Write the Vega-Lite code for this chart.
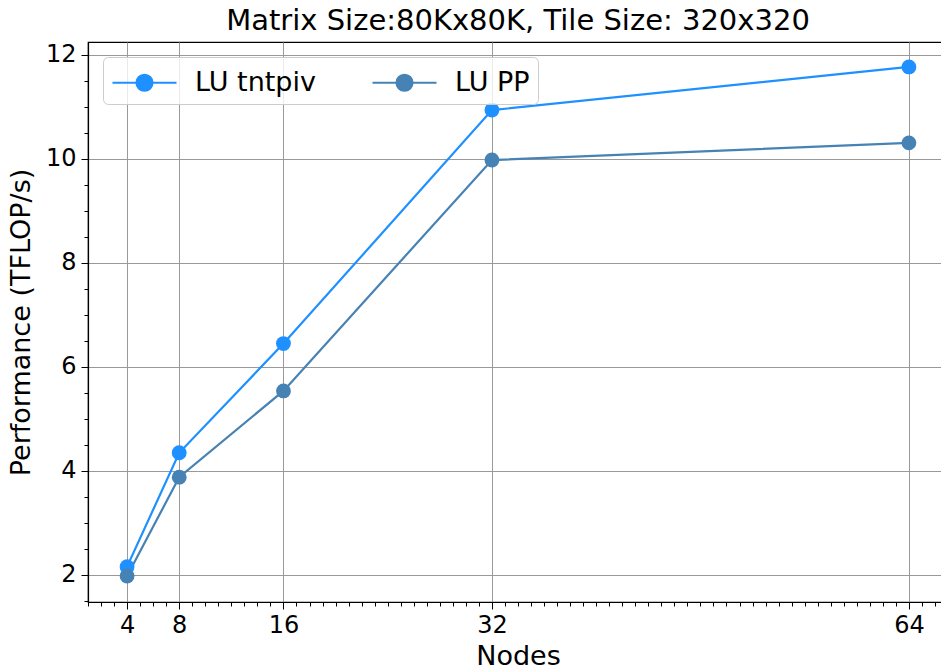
{
  "$schema": "https://vega.github.io/schema/vega-lite/v6.json",
  "autosize": {"type": "none"},
  "padding": {"left": 88, "top": 42, "right": 0, "bottom": 69},
  "width": 860,
  "height": 560,
  "background": "white",
  "config": {
    "font": "DejaVu Sans",
    "view": {"stroke": "black", "strokeWidth": 1.2},
    "axis": {"labelFont": "DejaVu Sans", "titleFont": "DejaVu Sans", "labelColor": "black", "titleColor": "black", "domainColor": "black", "tickColor": "black", "titleFontWeight": "normal"}
  },
  "title": {"text": "Matrix Size:80Kx80K, Tile Size: 320x320", "font": "DejaVu Sans", "fontSize": 29, "fontWeight": "normal", "color": "black", "anchor": "middle", "offset": 6},
  "data": {"values": [
    {"nodes": 4, "perf": 2.16, "series": "LU tntpiv"},
    {"nodes": 8, "perf": 4.35, "series": "LU tntpiv"},
    {"nodes": 16, "perf": 6.45, "series": "LU tntpiv"},
    {"nodes": 32, "perf": 10.94, "series": "LU tntpiv"},
    {"nodes": 64, "perf": 11.77, "series": "LU tntpiv"},
    {"nodes": 4, "perf": 1.98, "series": "LU PP"},
    {"nodes": 8, "perf": 3.88, "series": "LU PP"},
    {"nodes": 16, "perf": 5.54, "series": "LU PP"},
    {"nodes": 32, "perf": 9.98, "series": "LU PP"},
    {"nodes": 64, "perf": 10.31, "series": "LU PP"}
  ]},
  "mark": {"type": "line", "strokeWidth": 2.2, "point": {"filled": true, "size": 220, "opacity": 1}, "clip": false},
  "encoding": {
    "x": {
      "field": "nodes", "type": "quantitative",
      "scale": {"domain": [1, 67], "nice": false, "zero": false},
      "axis": {
        "title": "Nodes", "titleFontSize": 27, "titlePadding": 6,
        "labelFontSize": 24, "labelPadding": 4, "labelOverlap": false, "labelFlush": false,
        "values": [1,2,3,4,5,6,7,8,9,10,11,12,13,14,15,16,17,18,19,20,21,22,23,24,25,26,27,28,29,30,31,32,33,34,35,36,37,38,39,40,41,42,43,44,45,46,47,48,49,50,51,52,53,54,55,56,57,58,59,60,61,62,63,64,65,66,67],
        "format": "d",
        "labelExpr": "indexof([4,8,16,32,64], datum.value) >= 0 ? datum.label : ''",
        "grid": true, "gridColor": "#999999", "gridWidth": 1,
        "gridOpacity": {"condition": {"test": "indexof([4,8,16,32,64], datum.value) >= 0", "value": 1}, "value": 0},
        "tickSize": {"condition": {"test": "indexof([4,8,16,32,64], datum.value) >= 0", "value": 7}, "value": 4},
        "tickWidth": 1, "domainWidth": 1.2
      }
    },
    "y": {
      "field": "perf", "type": "quantitative",
      "scale": {"domain": [1.48, 12.25], "nice": false, "zero": false},
      "axis": {
        "title": "Performance (TFLOP/s)", "titleFontSize": 27, "titlePadding": 10,
        "labelFontSize": 24, "labelPadding": 5, "labelOverlap": false, "labelFlush": false,
        "values": [1.5,2,2.5,3,3.5,4,4.5,5,5.5,6,6.5,7,7.5,8,8.5,9,9.5,10,10.5,11,11.5,12],
        "format": ".0f",
        "labelExpr": "datum.value % 2 == 0 ? datum.label : ''",
        "grid": true, "gridColor": "#999999", "gridWidth": 1,
        "gridOpacity": {"condition": {"test": "datum.value % 2 == 0", "value": 1}, "value": 0},
        "tickSize": {"condition": {"test": "datum.value % 2 == 0", "value": 7}, "value": 4},
        "tickWidth": 1, "domainWidth": 1.2
      }
    },
    "color": {
      "field": "series", "type": "nominal",
      "scale": {"domain": ["LU tntpiv", "LU PP"], "range": ["#1E90FF", "#4682B4"]},
      "legend": {
        "title": null, "orient": "none", "legendX": 15, "legendY": 15,
        "direction": "horizontal", "columns": 2, "columnPadding": 52,
        "labelFont": "DejaVu Sans", "labelFontSize": 27, "labelColor": "black", "labelOffset": 33,
        "symbolType": "M-2,0H2M-0.5,0A0.5,0.5 0 1,0 0.5,0A0.5,0.5 0 1,0 -0.5,0Z",
        "symbolSize": 1024, "symbolStrokeWidth": 2, "symbolOffset": 16,
        "padding": 8, "strokeColor": "#cccccc", "fillColor": "rgba(255,255,255,0.8)", "cornerRadius": 5,
        "encode": {"symbols": {"update": {"fill": {"scale": "color", "field": "value"}, "stroke": {"scale": "color", "field": "value"}, "strokeWidth": {"value": 2.2}, "opacity": {"value": 1}}}}
      }
    }
  }
}
